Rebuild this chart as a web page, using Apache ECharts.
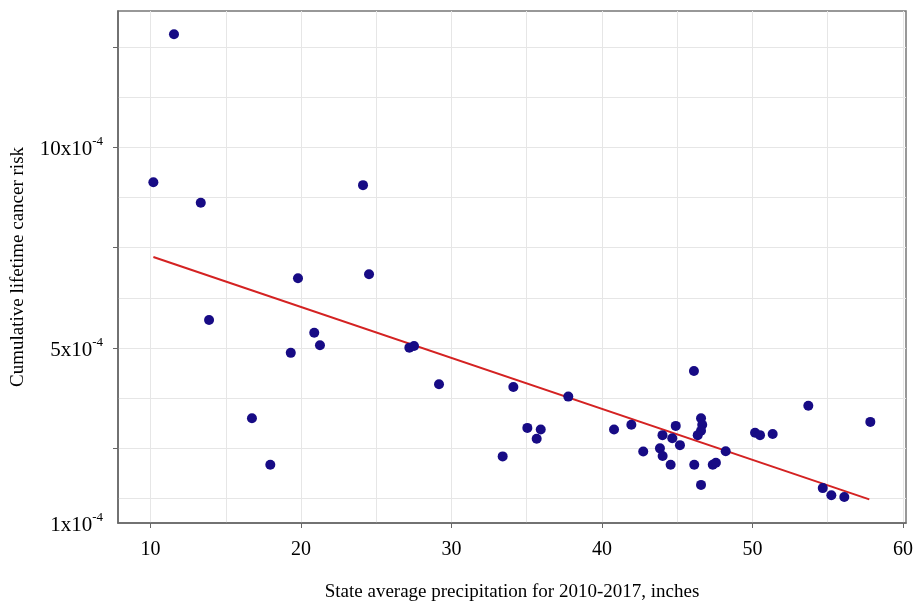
<!DOCTYPE html>
<html>
<head>
<meta charset="utf-8">
<script src="https://cdn.jsdelivr.net/npm/echarts@6/dist/echarts.min.js"></script>
<style>
html,body{margin:0;padding:0;background:#fff;}
#chart{width:920px;height:603px;}
</style>
</head>
<body>
<div id="chart"></div>
<script>
// State average precipitation (inches)
var precip = [11.56,10.19,13.34,24.12,19.80,24.52,13.89,20.88,21.26,19.32,27.20,27.51,29.17,16.74,17.96,33.40,
  34.11,37.76,35.04,35.93,35.66,40.80,41.95,42.74,44.02,44.90,44.67,45.18,43.85,44.03,44.56,
  46.11,46.58,46.66,46.58,46.36,46.13,46.58,47.36,47.57,48.22,50.17,50.50,51.34,53.71,57.83,54.67,55.24,56.10];
// Cumulative lifetime cancer risk (x10^-4)
var risk = [12.82,9.13,8.62,9.06,6.74,6.84,5.70,5.38,5.07,4.88,5.01,5.05,4.10,3.25,2.09,2.30,
  4.03,3.79,3.01,2.97,2.74,2.97,3.09,2.42,2.83,3.06,2.75,2.58,2.50,2.31,2.09,
  4.43,3.25,3.09,2.94,2.83,2.09,1.59,2.09,2.14,2.43,2.89,2.83,2.86,3.56,3.16,1.51,1.33,1.29];
// Fitted trend line endpoints
var fitX = [10.19, 57.76];
var fitY = [7.27, 1.23];
// Axis ticks and labels
var xTickValues = [10,20,30,40,50,60];
var xGridValues = [10,15,20,25,30,35,40,45,50,55,60];
var yTickValues = [2.5,5,7.5,10,12.5];
var yGridValues = [1.25,2.5,3.75,5,6.25,7.5,8.75,10,11.25,12.5];
var X_MIN = 7.84, X_MAX = 60.2;
var Y_MIN = 0.64, Y_MAX = 13.40;
var yLabelValues = [Y_MIN, 5, 10];
var yLabelText = ['1x10', '5x10', '10x10'];
var yLabelExp = '-4';

var scatterData = precip.map(function(x,i){ return [x, risk[i]]; });
var fitData = fitX.map(function(x,i){ return [x, fitY[i]]; });

var FONT = '"Liberation Serif","DejaVu Serif",serif';
var chart = echarts.init(document.getElementById('chart'), null, {renderer:'canvas'});
chart.setOption({
  animation: false,
  backgroundColor: '#fff',
  grid: {left:118, right:14, top:11, bottom:80, show:true, borderColor:'#777', borderWidth:1.5,
         backgroundColor:'transparent', containLabel:false, outerBoundsMode:'none'},
  xAxis: [{
    type:'value', min:X_MIN, max:X_MAX,
    name:'State average precipitation for 2010-2017, inches',
    nameLocation:'middle', nameGap:60,
    nameTextStyle:{fontFamily:FONT, fontSize:19, color:'#000'},
    axisLine:{show:true, onZero:false, lineStyle:{color:'#666', width:1.5}},
    axisTick:{show:true, inside:false, length:5, customValues:xTickValues, lineStyle:{color:'#666'}},
    axisLabel:{customValues:xTickValues, fontFamily:FONT, fontSize:20, color:'#000', margin:17},
    splitLine:{show:false}
  },{
    type:'value', min:X_MIN, max:X_MAX, position:'bottom',
    axisLine:{show:false}, axisLabel:{show:false},
    axisTick:{show:false, customValues:xGridValues},
    splitLine:{show:true, lineStyle:{color:'#e6e6e6', width:1}}
  }],
  yAxis: [{
    type:'value', min:Y_MIN, max:Y_MAX,
    name:'Cumulative lifetime cancer risk',
    nameLocation:'middle', nameGap:90,
    nameTextStyle:{fontFamily:FONT, fontSize:19, color:'#000'},
    axisLine:{show:true, onZero:false, lineStyle:{color:'#666', width:1.5}},
    axisTick:{show:true, inside:false, length:5, customValues:yTickValues, lineStyle:{color:'#666'}},
    axisLabel:{
      customValues:yLabelValues, margin:15,
      formatter:function(v){
        var idx = 0, best = 1e9;
        for (var i=0;i<yLabelValues.length;i++){ var d=Math.abs(yLabelValues[i]-v); if(d<best){best=d;idx=i;} }
        return '{b|' + yLabelText[idx] + '}{s|' + yLabelExp + '}';
      },
      rich:{
        b:{fontFamily:FONT, fontSize:21, color:'#000', lineHeight:24, padding:[4,0,0,0]},
        s:{fontFamily:FONT, fontSize:13, color:'#000', verticalAlign:'top', lineHeight:24, padding:[0,0,8,0]}
      }
    },
    splitLine:{show:false}
  },{
    type:'value', min:Y_MIN, max:Y_MAX, position:'left',
    axisLine:{show:false}, axisLabel:{show:false},
    axisTick:{show:false, customValues:yGridValues},
    splitLine:{show:true, lineStyle:{color:'#e6e6e6', width:1}}
  }],
  series: [{
    type:'scatter', xAxisIndex:0, yAxisIndex:0,
    data: scatterData, symbolSize:10,
    itemStyle:{color:'#170b85', opacity:1}, z:3
  },{
    type:'line', xAxisIndex:0, yAxisIndex:0,
    data: fitData, showSymbol:false, symbol:'none',
    lineStyle:{color:'#d42222', width:2}, z:2
  }]
});
</script>
</body>
</html>
